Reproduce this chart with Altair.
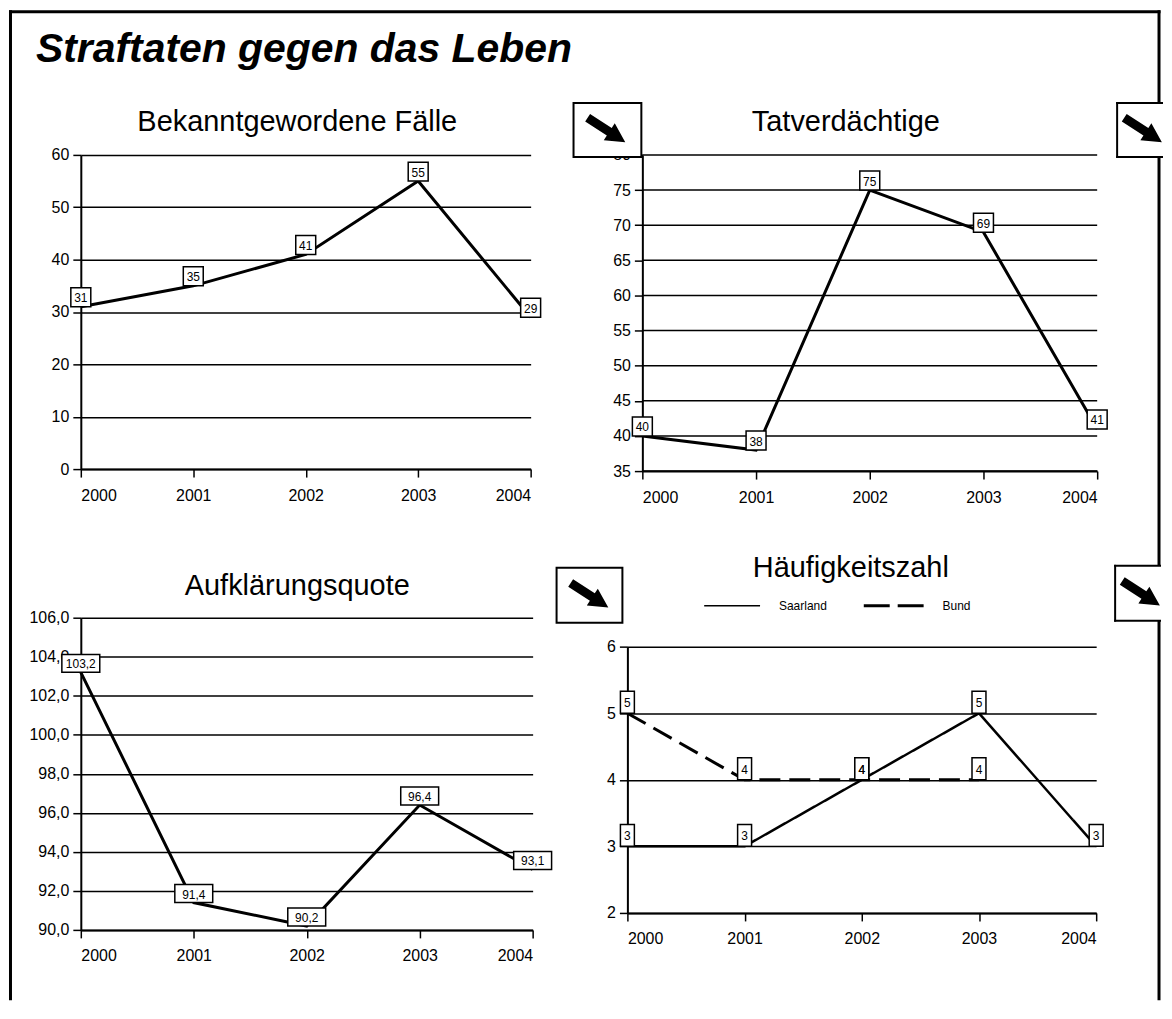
import altair as alt
import pandas as pd

# ---------------- data ----------------
years = [2000, 2001, 2002, 2003, 2004]
faelle = [31, 35, 41, 55, 29]
tatverdaechtige = [40, 38, 75, 69, 41]
aufklaerungsquote = [103.2, 91.4, 90.2, 96.4, 93.1]
hz_saarland = [3, 3, 4, 5, 3]
bund_years = [2000, 2001, 2002, 2003]
hz_bund = [5, 4, 4, 4]
series_names = ["Saarland", "Bund"]

main_title = "Straftaten gegen das Leben"
panel_titles = ["Bekanntgewordene Fälle", "Tatverdächtige", "Aufklärungsquote", "Häufigkeitszahl"]

ticks_faelle = [0, 10, 20, 30, 40, 50, 60]
ticks_tv = [35, 40, 45, 50, 55, 60, 65, 70, 75, 80]
ticks_aq = [90, 92, 94, 96, 98, 100, 102, 104, 106]
ticks_hz = [2, 3, 4, 5, 6]

FONT = "Liberation Sans, Arial, Helvetica, sans-serif"
one = pd.DataFrame({"k": [0]})

ARROW = "M -1 -0.2 L 0.15 -0.2 L 0.15 -0.45 L 1 0 L 0.15 0.45 L 0.15 0.2 L -1 0.2 Z"
TITLE_SIZE = 29


def box_shape(w, h):
    if w >= h:
        r = h / w
        return f"M -1 {-r:.3f} L 1 {-r:.3f} L 1 {r:.3f} L -1 {r:.3f} Z", w * w
    q = w / h
    return f"M {-q:.3f} -1 L {q:.3f} -1 L {q:.3f} 1 L {-q:.3f} 1 Z", h * h


def rule(x, y, x2=None, y2=None, width=3, cap="square", dash=None):
    enc = dict(x=alt.value(x), y=alt.value(y))
    if x2 is not None:
        enc["x2"] = alt.value(x2)
    if y2 is not None:
        enc["y2"] = alt.value(y2)
    kw = dict(color="black", strokeWidth=width, strokeCap=cap)
    if dash is not None:
        kw["strokeDash"] = dash
    return alt.Chart(one).mark_rule(**kw).encode(**enc)


def text(txt, x, y, size, weight="normal", style="normal", align="center"):
    return alt.Chart(one).mark_text(
        text=txt, font=FONT, fontSize=size, fontWeight=weight, fontStyle=style,
        align=align, baseline="alphabetic", color="black"
    ).encode(x=alt.value(x), y=alt.value(y))


def arrow_box(x1, y1, x2, y2, open_right=False):
    layers = []
    if open_right:
        layers.append(alt.Chart(one).mark_rect(fill="white", strokeWidth=0).encode(
            x=alt.value(x1), x2=alt.value(x2), y=alt.value(y1), y2=alt.value(y2)))
        layers.append(rule(x1, y1, x2=x2 - 1, width=2))
        layers.append(rule(x1, y2, x2=x2 - 1, width=2))
        layers.append(rule(x1, y1, y2=y2, width=2))
        cx = x1 + 26
    else:
        layers.append(alt.Chart(one).mark_rect(fill="white", stroke="black", strokeWidth=2).encode(
            x=alt.value(x1), x2=alt.value(x2), y=alt.value(y1), y2=alt.value(y2)))
        cx = x1 + 33
    cy = (y1 + y2) / 2
    layers.append(alt.Chart(one).mark_point(
        shape=ARROW, filled=True, color="black", strokeWidth=0, size=2025, angle=33, opacity=1
    ).encode(x=alt.value(cx), y=alt.value(cy)))
    return layers


def x_enc(rng=None):
    sc = dict(domain=[2000, 2004], nice=False, zero=False)
    if rng is not None:
        sc["range"] = rng
    return alt.X("Jahr:Q", scale=alt.Scale(**sc),
                 axis=alt.Axis(values=years, format="d", grid=False, title=None))


def value_layers(df, yenc, w, h, xenc):
    base = alt.Chart(df).encode(x=xenc, y=yenc)
    shape, size = box_shape(w, h)
    boxes = base.mark_point(shape=shape, size=size, filled=True, fill="white", stroke="black",
                            strokeWidth=1.5, opacity=1, yOffset=-h / 2)
    labels = base.mark_text(font=FONT, fontSize=12, color="black", baseline="middle",
                            yOffset=-h / 2, dy=1).encode(text="Label:N")
    return boxes, labels


# ---------------- panel 1 ----------------
W1, H1 = 451, 315
df1 = pd.DataFrame({"Jahr": years, "Wert": faelle, "Label": [str(v) for v in faelle]})
y1 = alt.Y("Wert:Q", scale=alt.Scale(domain=[0, 60], nice=False, zero=False),
           axis=alt.Axis(values=ticks_faelle, title=None, grid=True))
line1 = alt.Chart(df1).mark_line(color="black", strokeWidth=3).encode(x=x_enc(), y=y1)
b1, l1 = value_layers(df1, y1, 20, 19, x_enc())
FT = -143.5
frame = [
    rule(-70.5, FT, y2=846),
    rule(-70.5, FT, x2=1081),
    rule(1081, FT, y2=846),
]
p1 = alt.layer(
    *frame,
    text(main_title, -45, -93, 41, weight="bold", style="italic", align="left"),
    text(panel_titles[0], 217, -24, TITLE_SIZE),
    line1, b1, l1,
).properties(width=W1, height=H1)

# ---------------- panel 2 ----------------
W2, H2 = 471, 317
AX2 = 15
df2 = pd.DataFrame({"Jahr": years, "Wert": tatverdaechtige, "Label": [str(v) for v in tatverdaechtige]})
y2 = alt.Y("Wert:Q", scale=alt.Scale(domain=[35, 80], nice=False, zero=False),
           axis=alt.Axis(values=ticks_tv, title=None, grid=False, offset=-AX2))
grid2 = alt.Chart(pd.DataFrame({"Wert": ticks_tv})).mark_rule(color="black", strokeWidth=1.5).encode(
    y=y2, x=alt.value(AX2), x2=alt.value(W2))
line2 = alt.Chart(df2).mark_line(color="black", strokeWidth=3).encode(x=x_enc([AX2, W2]), y=y2)
b2, l2 = value_layers(df2, y2, 20, 19, x_enc([AX2, W2]))
p2 = alt.layer(
    grid2, line2, b2, l2,
    text(panel_titles[1], 219, -24, TITLE_SIZE),
    *arrow_box(-54, -52, 14, 2),
    *arrow_box(491, -52, 537, 2, open_right=True),
).properties(width=W2, height=H2)

# ---------------- panel 3 ----------------
W3, H3 = 453, 313
df3 = pd.DataFrame({"Jahr": years, "Wert": aufklaerungsquote,
                    "Label": [f"{v:.1f}".replace(".", ",") for v in aufklaerungsquote]})
y3 = alt.Y("Wert:Q", scale=alt.Scale(domain=[90, 106], nice=False, zero=False),
           axis=alt.Axis(values=ticks_aq, title=None, grid=True,
                         labelExpr="replace(format(datum.value, '.1f'), '.', ',')"))
line3 = alt.Chart(df3).mark_line(color="black", strokeWidth=3).encode(x=x_enc(), y=y3)
b3, l3 = value_layers(df3, y3, 38, 18, x_enc())
p3 = alt.layer(
    line3, b3, l3,
    text(panel_titles[2], 217, -23, TITLE_SIZE),
    *arrow_box(477, -50, 543, 5),
).properties(width=W3, height=H3)

# ---------------- panel 4 ----------------
W4, H4 = 470, 296
TOP4 = 29
df4 = pd.DataFrame({
    "Jahr": years + bund_years,
    "Wert": hz_saarland + hz_bund,
    "Serie": [series_names[0]] * len(years) + [series_names[1]] * len(bund_years),
})
df4["Label"] = df4["Wert"].astype(str)
y4 = alt.Y("Wert:Q", scale=alt.Scale(domain=[2, 6], nice=False, zero=False, range=[H4, TOP4]),
           axis=alt.Axis(values=ticks_hz, title=None, grid=True))
line4 = alt.Chart(df4).mark_line(color="black").encode(
    x=x_enc(), y=y4, detail="Serie:N",
    strokeDash=alt.StrokeDash(
        "Serie:N", scale=alt.Scale(domain=series_names, range=[[1, 0], [21, 9]]), legend=None),
    strokeWidth=alt.StrokeWidth("Serie:N", scale=alt.Scale(domain=series_names, range=[2.5, 3]),
                                legend=None),
)
b4, l4 = value_layers(df4, y4, 14, 22, x_enc())
legend4 = [
    rule(77, -12, x2=133, width=1.5, cap="butt"),
    alt.Chart(one).mark_text(text=series_names[0], font=FONT, fontSize=12, align="left",
                             baseline="middle", color="black").encode(x=alt.value(152), y=alt.value(-12)),
    rule(237, -12, x2=297, width=3, cap="butt", dash=[26, 8]),
    alt.Chart(one).mark_text(text=series_names[1], font=FONT, fontSize=12, align="left",
                             baseline="middle", color="black").encode(x=alt.value(316), y=alt.value(-12)),
]
p4 = alt.layer(
    line4, b4, l4,
    *legend4,
    text(panel_titles[3], 224, -41, TITLE_SIZE),
    *arrow_box(489, -52, 535, 3, open_right=True),
).properties(width=W4, height=H4)

chart = alt.concat(
    p1, p2, p3, p4, columns=2, bounds="flush", align="none",
    spacing={"row": 147, "column": 95},
).properties(padding=0, background="white").configure_view(stroke=None).configure_axis(
    domainColor="black", domainWidth=2, tickColor="black", tickWidth=1.5, tickSize=8,
    gridColor="black", gridWidth=1.5, gridOpacity=1, labelFont=FONT, labelFontSize=16,
    labelColor="black", labelPadding=4,
).configure_axisX(labelPadding=10)

chart.save("out.html", embed_options={"renderer": "svg", "actions": False})
